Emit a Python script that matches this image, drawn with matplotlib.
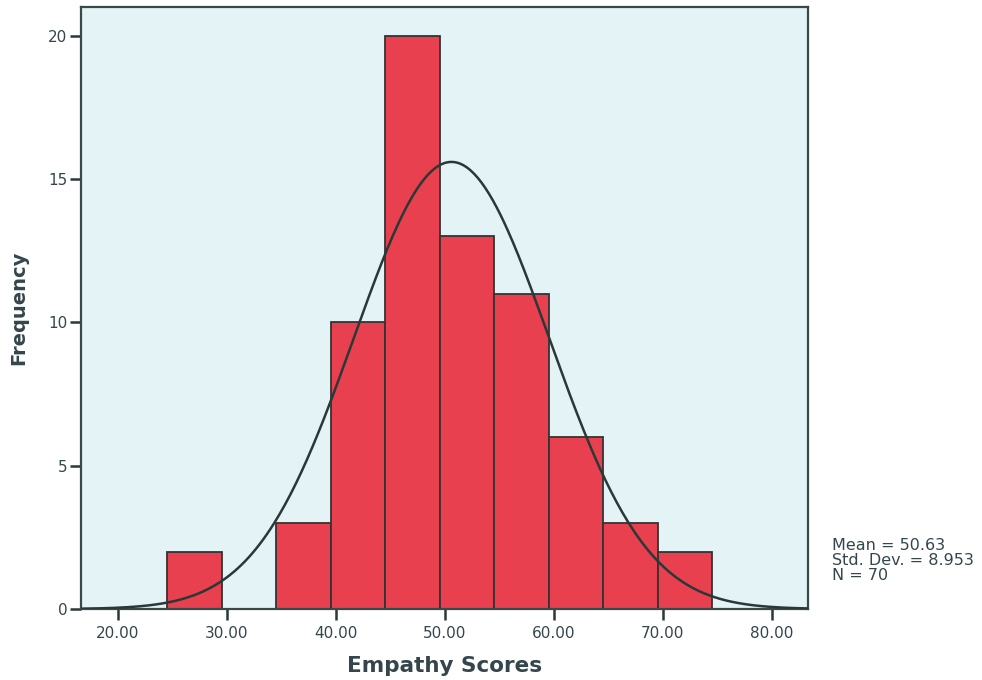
import numpy as np
import matplotlib
matplotlib.use("Agg")
import matplotlib.pyplot as plt

# Data
bin_edges = [24.55, 29.55, 34.55, 39.55, 44.55, 49.55, 54.55, 59.55, 64.55, 69.55, 74.55]
counts = [2, 0, 3, 10, 20, 13, 11, 6, 3, 2]
mean_val = 50.63
std_val = 8.953
n_val = 70
xticks = [20, 30, 40, 50, 60, 70, 80]
xtick_labels = ["20.00", "30.00", "40.00", "50.00", "60.00", "70.00", "80.00"]
yticks = [0, 5, 10, 15, 20]

plt.rcParams['font.family'] = ['DejaVu Sans']
text_col = '#34464c'

fig = plt.figure(figsize=(9.82, 6.80), dpi=100)
ax = fig.add_axes([0.0825, 0.1044, 0.7403, 0.8853])
ax.set_facecolor('#e4f4f6')

lefts = np.array(bin_edges[:-1])
widths = np.diff(bin_edges)
for l, w, c in zip(lefts, widths, counts):
    if c > 0:
        ax.bar(l, c, width=w, align='edge', color='#e8404f',
               edgecolor='#333333', linewidth=1.3, zorder=2)

binw = widths[0]
xs = np.linspace(16.65, 83.33, 400)
ys = n_val * binw / (std_val * np.sqrt(2 * np.pi)) * np.exp(-0.5 * ((xs - mean_val) / std_val) ** 2)
ax.plot(xs, ys, color='#2b3838', linewidth=1.8, zorder=3)

ax.set_xlim(16.65, 83.33)
ax.set_ylim(0, 21.0)
ax.set_xticks(xticks)
ax.set_xticklabels(xtick_labels)
ax.set_yticks(yticks)
ax.tick_params(axis='both', direction='out', length=8, width=1.8,
               color='#2b3838', labelsize=11, labelcolor=text_col)
ax.tick_params(axis='x', pad=4)
ax.tick_params(axis='y', pad=2)
for s in ax.spines.values():
    s.set_color('#3a4848')
    s.set_linewidth(1.6)

ax.set_xlabel('Empathy Scores', fontsize=15.5, fontweight='bold', color=text_col, labelpad=11)
ax.set_ylabel('Frequency', fontsize=14, fontweight='bold', color=text_col, labelpad=14)

fig.text(832 / 982, 1 - 538 / 680,
         f"Mean = {mean_val:.2f}\nStd. Dev. = {std_val:.3f}\nN = {n_val}",
         fontsize=11.5, color=text_col, va='top', ha='left', linespacing=0.98)

fig.savefig('out.png', dpi=100)
